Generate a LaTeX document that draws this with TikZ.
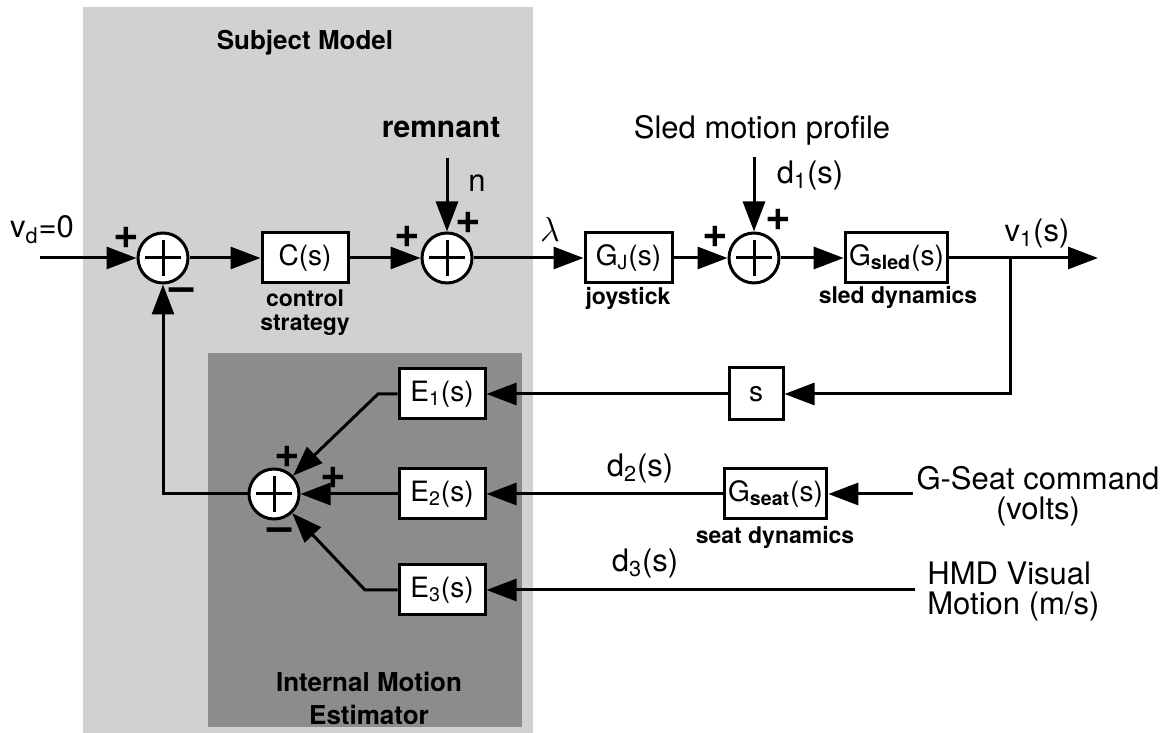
\documentclass[tikz,border=0pt]{standalone}
\usepackage{fontspec}
\setmainfont{TeX Gyre Heros}
\usetikzlibrary{arrows.meta}

\tikzset{
  blk/.style={draw, line width=1.5pt, fill=white, minimum height=25pt, inner sep=2pt,
    font=\fontsize{14}{15}\selectfont},
  sumj/.style={draw, circle, line width=1.5pt, fill=white, minimum size=25pt, inner sep=0pt,
    path picture={\draw[line width=1.5pt] (path picture bounding box.center)
      +(-9pt,0) -- +(9pt,0) +(0,-9pt) -- +(0,9pt);}},
  wire/.style={line width=1.5pt, -{Triangle[length=15pt,width=11pt]}},
  sig/.style={font=\fontsize{15.5}{15}\selectfont},
  lbl/.style={font=\bfseries\fontsize{11.5}{12}\selectfont, align=center},
  sgn/.style={font=\bfseries\fontsize{22}{22}\selectfont, inner sep=0pt},
  area/.style={font=\bfseries\fontsize{13}{16.5}\selectfont, align=center},
}

\begin{document}
\begin{tikzpicture}[x=50pt,y=50pt]
\useasboundingbox (0,0) rectangle (11.62,7.33);
% subject model and estimator
\fill[black!18] (0.83,0) rectangle (5.33,7.26);
\fill[black!45] (2.08,0.06) rectangle (5.22,3.80);
\node[area] (subj) at (3.05,6.90) {Subject Model};
\node[area] (ime) at (3.69,0.35) {Internal Motion\\Estimator};

% forward path
\node[sumj] (s1) at (1.63,4.75) {};
\node[blk, minimum width=43pt] (ctl) at (3.05,4.75) {C(s)};
\node[sumj] (s2) at (4.47,4.75) {};
\node[blk, minimum width=43.5pt] (joy) at (6.285,4.75) {G\textsubscript{J}(s)};
\node[sumj] (s3) at (7.54,4.75) {};
\node[blk, minimum width=48.5pt] (sled) at (8.965,4.75) {G\textsubscript{\bfseries sled}(s)};

% feedback and estimator blocks
\node[blk, minimum width=27pt, minimum height=26pt] (deriv) at (7.56,3.39) {s};
\node[blk, minimum width=43pt] (e1) at (4.42,3.39) {E\textsubscript{1}(s)};
\node[blk, minimum width=43pt] (e2) at (4.42,2.39) {E\textsubscript{2}(s)};
\node[blk, minimum width=43pt] (e3) at (4.42,1.43) {E\textsubscript{3}(s)};
\node[sumj] (s4) at (2.74,2.39) {};
\node[blk, minimum width=48.5pt] (seat) at (7.755,2.39) {G\textsubscript{\bfseries seat}(s)};

\coordinate (vin) at (0.40,4.75);
\coordinate (remtop) at (4.47,5.75);
\coordinate (d1top) at (7.54,5.76);
\coordinate (branch) at (10.10,4.75);
\coordinate (vout) at (10.98,4.75);
\coordinate (k1) at (3.78,3.39);
\coordinate (k3) at (3.65,1.43);
\coordinate (gin) at (9.13,2.39);
\coordinate (hin) at (9.15,1.43);

\draw[wire] (vin) -- (s1);
\draw[wire] (s1) -- (ctl);
\draw[wire] (ctl) -- (s2);
\draw[wire] (remtop) -- (s2);
\draw[wire] (s2) -- (joy);
\draw[wire] (joy) -- (s3);
\draw[wire] (d1top) -- (s3);
\draw[wire] (s3) -- (sled);
\draw[wire] (sled) -- (vout);
\draw[wire] (branch) |- (deriv.east);
\draw[wire] (deriv) -- (e1);
\draw[wire] (gin) -- (seat);
\draw[wire] (seat) -- (e2);
\draw[wire] (hin) -- (e3);
\draw[wire] (e1.west) -- (k1) -- (s4);
\draw[wire] (e2) -- (s4);
\draw[wire] (e3.west) -- (k3) -- (s4);
\draw[wire] (s4.west) -| (s1.south);

% signs
\node[sgn] (p1) at (1.26,4.95) {+};
\node[sgn] (m1) at (1.82,4.38) {--};
\node[sgn] (p2) at (4.07,4.96) {+};
\node[sgn] (p3) at (4.68,5.10) {+};
\node[sgn] (p4) at (7.15,4.96) {+};
\node[sgn] (p5) at (7.78,5.13) {+};
\node[sgn] (p6) at (2.87,2.76) {+};
\node[sgn] (p7) at (3.33,2.55) {+};
\node[sgn] (m2) at (2.80,1.98) {--};

% signal labels
\node[sig] (vd) at (0.42,5.03) {v\textsubscript{d}=0};
\node[font=\bfseries\fontsize{15}{16}\selectfont] (rem) at (4.41,6.05) {remnant};
\node[sig] (nlab) at (4.77,5.50) {n};
\node[font=\fontsize{18}{18}\selectfont] (lam) at (5.50,5.03) {$\lambda$};
\node[sig] (prof) at (7.62,6.03) {Sled motion profile};
\node[sig] (d1) at (8.10,5.58) {d\textsubscript{1}(s)};
\node[sig] (v1) at (10.37,5.00) {v\textsubscript{1}(s)};
\node[sig] (d2) at (6.40,2.65) {d\textsubscript{2}(s)};
\node[sig] (d3) at (6.45,1.70) {d\textsubscript{3}(s)};
\node[sig, align=center] (gcmd) at (10.38,2.37) {G-Seat command\\(volts)};
\node[sig, align=left, anchor=west, inner sep=0pt] (hmd) at (9.27,1.42) {HMD Visual\\Motion (m/s)};

% block captions
\node[lbl] (ctlcap) at (3.05,4.20) {control\\strategy};
\node[lbl] (joycap) at (6.28,4.35) {joystick};
\node[lbl] (sledcap) at (8.98,4.36) {sled dynamics};
\node[lbl] (seatcap) at (7.75,1.96) {seat dynamics};
\end{tikzpicture}
\end{document}
